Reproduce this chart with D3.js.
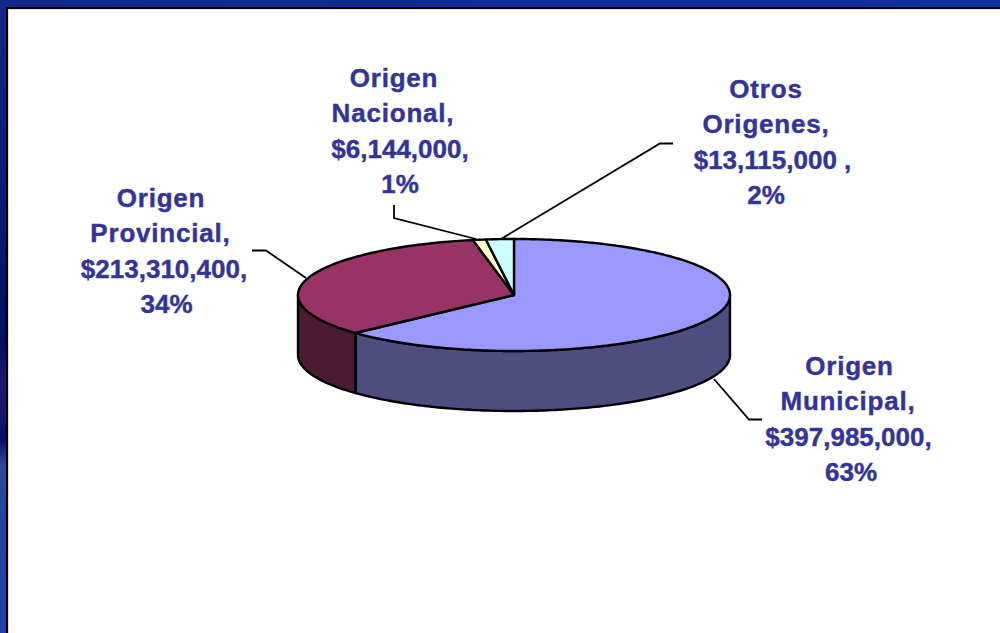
<!DOCTYPE html>
<html>
<head>
<meta charset="utf-8">
<script src="https://cdn.jsdelivr.net/npm/d3@7"></script>
<style>
  html, body { margin: 0; padding: 0; background: #fff; overflow: hidden; }
  text { font-family: "Liberation Sans", Arial, sans-serif; font-weight: bold; font-size: 26px; fill: #333399; stroke: #333399; stroke-width: 0.4px; text-anchor: middle; }
</style>
</head>
<body>
<div id="chart"></div>
<script>
var categories = ["Origen Municipal", "Origen Provincial", "Origen Nacional", "Otros Origenes"];
var values = [397985000, 213310400, 6144000, 13115000];
var topColors = ["#9999ff", "#993366", "#ffffcc", "#ccffff"];
var sideColors = ["#4d4d80", "#4d1a33", "#808066", "#668080"];
var labelLines = [
    ["Origen", "Municipal,", "$397,985,000,", "63%"],
    ["Origen", "Provincial,", "$213,310,400,", "34%"],
    ["Origen", "Nacional,", "$6,144,000,", "1%"],
    ["Otros", "Origenes,", "$13,115,000 ,", "2%"]
];

var width = 1000, height = 633;
var cx = 514, cy = 295, rx = 216, ry = 56, depth = 60;

var svg = d3.select("#chart")
    .append("svg")
    .attr("width", width)
    .attr("height", height);

// slide frame: blue band on the left and top, black edge inside it
var defs = svg.append("defs");
var grad = defs.append("linearGradient")
    .attr("id", "band")
    .attr("x1", 0).attr("y1", 0).attr("x2", 0).attr("y2", 1);
[[0, "#10298a"], [0.32, "#0a1a7a"], [0.54, "#04105f"], [0.6, "#1a1a70"], [0.655, "#16166e"], [0.695, "#060f6a"], [0.735, "#2f4a98"], [0.79, "#1f48a0"], [1, "#1e3fae"]]
    .forEach(function (s) { grad.append("stop").attr("offset", s[0]).attr("stop-color", s[1]); });
var topGrad = defs.append("linearGradient").attr("id", "topband");
[[0, "#10298a"], [1, "#1030a0"]]
    .forEach(function (s) { topGrad.append("stop").attr("offset", s[0]).attr("stop-color", s[1]); });

svg.append("rect").attr("width", 7).attr("height", height).attr("fill", "url(#band)");
svg.append("rect").attr("width", width).attr("height", 7).attr("fill", "url(#topband)");
svg.append("rect").attr("x", 8).attr("y", 9).attr("width", 1).attr("height", height).attr("fill", "#ddd");
svg.append("rect").attr("x", 8).attr("y", 9).attr("width", width).attr("height", 1).attr("fill", "#ddd");
svg.append("rect").attr("x", 6).attr("y", 7).attr("width", 2).attr("height", height).attr("fill", "#000");
svg.append("rect").attr("x", 6).attr("y", 7).attr("width", width).attr("height", 2).attr("fill", "#000");

var pie = d3.pie().sort(null).startAngle(0).endAngle(2 * Math.PI);
var slices = pie(values);

// angle -> point on the flattened ellipse
var px = d3.scaleLinear().domain([-1, 1]).range([cx - rx, cx + rx]);
var py = d3.scaleLinear().domain([-1, 1]).range([cy - ry, cy + ry]);
var line = d3.line().x(function (d) { return px(Math.sin(d)); }).y(function (d) { return py(-Math.cos(d)); });

function samples(a0, a1) {
    var n = Math.max(2, Math.ceil((a1 - a0) * 60));
    return d3.range(n + 1).map(function (i) { return a0 + (a1 - a0) * i / n; });
}

var g = svg.append("g");

// side wall, only the part of the rim facing the viewer
slices.forEach(function (d, i) {
    var a0 = Math.max(d.startAngle, Math.PI / 2);
    var a1 = Math.min(d.endAngle, 3 * Math.PI / 2);
    if (a1 <= a0) return;
    var top = samples(a0, a1);
    g.append("path")
        .attr("d", line(top) + "L" + top.slice().reverse().map(function (a) {
            return [px(Math.sin(a)), py(-Math.cos(a)) + depth].join(",");
        }).join("L") + "Z")
        .attr("fill", sideColors[i])
        .attr("stroke", "#000")
        .attr("stroke-width", 2.4)
        .attr("stroke-linejoin", "round");
});

// top face
g.selectAll("path.top")
    .data(slices)
    .enter()
    .append("path")
    .attr("class", "top")
    .attr("d", function (d) {
        return "M" + cx + "," + cy + "L" + line(samples(d.startAngle, d.endAngle)).slice(1) + "Z";
    })
    .attr("fill", function (d, i) { return topColors[i]; })
    .attr("stroke", "#000")
    .attr("stroke-width", 2.4)
    .attr("stroke-linejoin", "round");

// leader lines
var leaders = [
    [[714, 379], [749, 419.5], [762, 419.5]],
    [[306, 278], [266, 250.5], [252, 250.5]],
    [[476, 239], [394, 218], [394, 205]],
    [[501, 239], [660, 143.5], [673, 143.5]]
];
svg.selectAll("path.leader")
    .data(leaders)
    .enter()
    .append("path")
    .attr("class", "leader")
    .attr("d", d3.line())
    .attr("fill", "none")
    .attr("stroke", "#000")
    .attr("stroke-width", 1.8);

// labels: each line sits on its own centre, like the original text boxes
var labelX = [
    [849.5, 848, 848.5, 851],
    [161, 160.5, 164, 166.5],
    [394, 393, 400, 400],
    [766, 766, 772.5, 766]
];
var labelY = [375, 207, 87, 98];
labelLines.forEach(function (lines, i) {
    var t = svg.append("text").attr("aria-label", categories[i]);
    lines.forEach(function (s, j) {
        t.append("tspan")
            .attr("x", labelX[i][j])
            .attr("y", labelY[i] + j * 35.3)
            .attr("letter-spacing", j < 2 ? 0.8 : 0)
            .text(s);
    });
});
</script>
</body>
</html>
